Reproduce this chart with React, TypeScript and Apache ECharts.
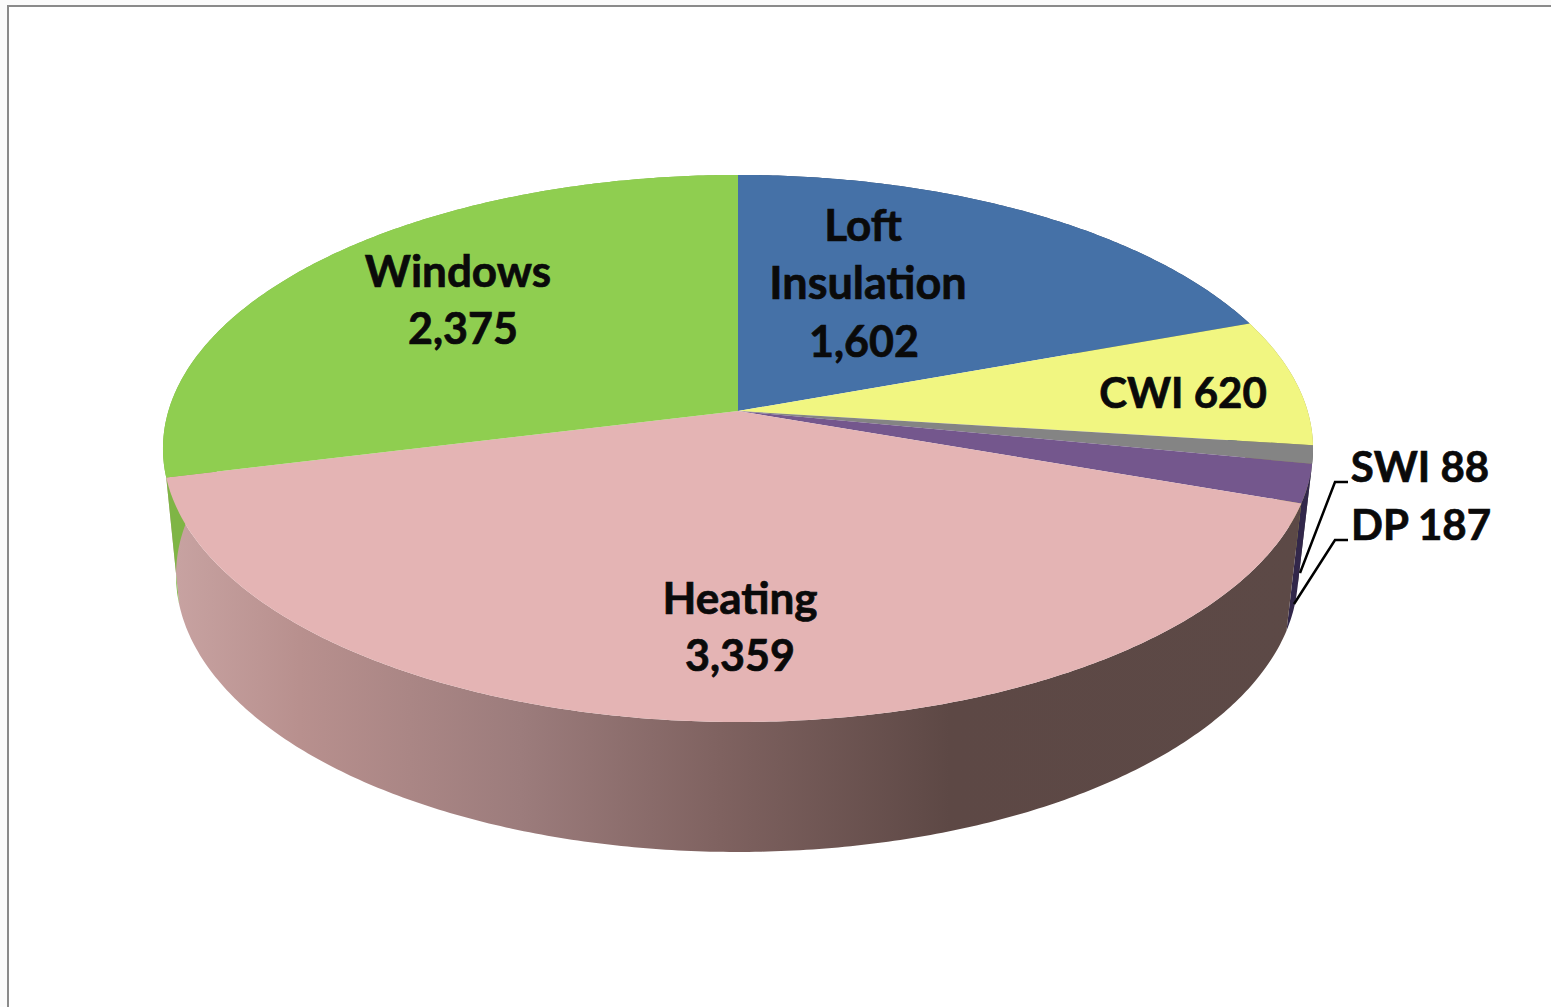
import React, { useEffect, useRef } from "react";
import * as echarts from "echarts";

const categories = ["Loft Insulation", "CWI", "SWI", "DP", "Heating", "Windows"];
const values = [1602, 620, 88, 187, 3359, 2375];

const topColors = ["#4571a7", "#f1f681", "#848484", "#74578d", "#e4b4b4", "#8fce50"];
const wallColors = ["#2f4a6e", "#a0a355", "#585858", "#32274a", "#c39c9a", "#7fb545"];

// placement of each label: one [centre x, centre y] per text line
const labelLines: string[][] = [
  ["Loft", "Insulation", "1,602"],
  ["CWI 620"],
  ["SWI 88"],
  ["DP 187"],
  ["Heating", "3,359"],
  ["Windows", "2,375"],
];
const labelPlaces: number[][][] = [
  [[863, 224], [868, 282], [864, 340]],
  [[1183, 392]],
  [[1420, 466]],
  [[1421, 524]],
  [[740, 597], [740, 654]],
  [[458, 270], [463, 327]],
];
const labelSizes: number[][] = [
  [44, 45, 43],
  [42],
  [42],
  [42],
  [44, 43],
  [44, 43],
];

const PERSP = 0.137;
const topPlane = { cx: 738, cy: 411, a: 569.6, b: 268.4 };
const bottomPlane = { cx: 737, cy: 537, a: 555.7, b: 271.8 };
const total = values.reduce((s, v) => s + v, 0);

function project(plane: typeof topPlane, theta: number): number[] {
  const X = Math.sin(theta);
  const Y = -Math.cos(theta);
  const w = 1 - PERSP * Y;
  return [plane.cx + (plane.a * X) / w, plane.cy + (plane.b * Y) / w];
}

function sliceAngles(index: number): [number, number] {
  let before = 0;
  for (let i = 0; i < index; i++) before += values[i];
  const k = (Math.PI * 2) / total;
  return [before * k, (before + values[index]) * k];
}

function arc(plane: typeof topPlane, a0: number, a1: number): number[][] {
  const n = Math.max(2, Math.ceil((a1 - a0) / 0.01));
  const pts: number[][] = [];
  for (let i = 0; i <= n; i++) pts.push(project(plane, a0 + ((a1 - a0) * i) / n));
  return pts;
}

function renderWall(params: any) {
  const i = params.dataIndex;
  const [a0, a1] = sliceAngles(i);
  const points = [...arc(topPlane, a0, a1), ...arc(bottomPlane, a0, a1).reverse()];
  const fill =
    categories[i] === "Heating"
      ? new echarts.graphic.LinearGradient(
          170, 0, 1300, 0,
          [
            { offset: 0, color: "#c8a3a2" },
            { offset: 0.115, color: "#b8908e" },
            { offset: 0.31, color: "#9c7c7c" },
            { offset: 0.487, color: "#7f6260" },
            { offset: 0.69, color: "#5d4845" },
            { offset: 1, color: "#5c4946" },
          ],
          true
        )
      : wallColors[i];
  return { type: "polygon", shape: { points }, style: { fill, stroke: "none" } };
}

function renderTop(params: any) {
  const i = params.dataIndex;
  const [a0, a1] = sliceAngles(i);
  const points = [[topPlane.cx, topPlane.cy], ...arc(topPlane, a0, a1)];
  return { type: "polygon", shape: { points }, style: { fill: topColors[i], stroke: "none" } };
}

function renderLabel(params: any) {
  const i = params.dataIndex;
  return {
    type: "group",
    children: labelLines[i].map((line, j) => ({
      type: "text",
      x: labelPlaces[i][j][0],
      y: labelPlaces[i][j][1],
      style: {
        text: line,
        fill: "#0a0a0a",
        stroke: "#0a0a0a",
        lineWidth: 0.7,
        font: `bold ${labelSizes[i][j]}px Lato, "Open Sans", sans-serif`,
        align: "center",
        verticalAlign: "middle",
      },
    })),
  };
}

export default function App() {
  const ref = useRef<HTMLDivElement>(null);
  useEffect(() => {
    document.body.style.margin = "0";
    const chart = echarts.init(ref.current!, undefined, { renderer: "svg" });
    chart.setOption({
      animation: false,
      backgroundColor: "#fbfbfb",
      graphic: [
        {
          type: "rect",
          z: 0,
          shape: { x: 8, y: 6, width: 1600, height: 1100 },
          style: { fill: "#ffffff", stroke: "#8a8a8a", lineWidth: 2 },
        },
        {
          type: "polyline",
          z: 20,
          shape: { points: [[1348, 482], [1335, 482], [1300, 573]] },
          style: { fill: "none", stroke: "#000000", lineWidth: 2.5 },
        },
        {
          type: "polyline",
          z: 20,
          shape: { points: [[1348, 540], [1335, 540], [1294, 604]] },
          style: { fill: "none", stroke: "#000000", lineWidth: 2.5 },
        },
      ],
      series: [
        { type: "custom", coordinateSystem: "none", z: 5, data: values, renderItem: renderWall, silent: true },
        { type: "custom", coordinateSystem: "none", z: 6, data: values, renderItem: renderTop, silent: true },
        { type: "custom", coordinateSystem: "none", z: 7, data: values, renderItem: renderLabel, silent: true },
      ],
    });
    return () => chart.dispose();
  }, []);
  return (
    <div
      ref={ref}
      style={{ position: "fixed", left: 0, top: 0, width: 1551, height: 1007 }}
    />
  );
}
